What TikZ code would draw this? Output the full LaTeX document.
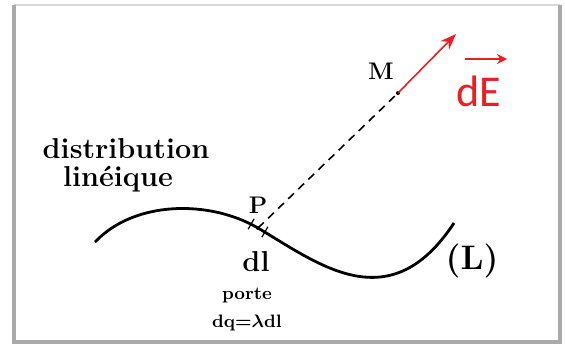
\documentclass[tikz,border=0pt]{standalone}
\usepackage{amsmath}
\usepackage{fontspec}
\newfontfamily\calfont{Carlito}
\usetikzlibrary{arrows.meta, calc}
\definecolor{frGray}{RGB}{170,170,170}
\definecolor{vecRed}{RGB}{235,30,35}

\begin{document}
\begin{tikzpicture}[x=0.5pt, y=-0.5pt,
    lbl/.style={font=\large\bfseries, inner sep=0pt},
    biglbl/.style={font=\Large\bfseries, inner sep=0pt, align=center},
    smlbl/.style={font=\fontsize{9}{10}\selectfont\bfseries, inner sep=0pt}
  ]
  \useasboundingbox (0,0) rectangle (565,347);
  % cadre
  \draw[frGray!45, line width=1pt] (14,5) -- (560,5);
  \draw[frGray, line width=1.6pt] (14,5) -- (14,342) -- (560,342) -- (560,5);

  % courbe (L)
  \coordinate (P) at (258,228);
  \coordinate (M) at (398,93);
  \coordinate (Etip) at (456,34);
  \draw[line width=1.4pt] (95,242) .. controls (135,200) and (210,200) .. (P)
        .. controls (320,265) and (390,320) .. (454,223);
  % element dl
  \foreach \s in {-8,8} {
    \draw[line width=0.6pt] ($(P)+(\s*0.86,\s*0.5)+(3,-5.2)$) -- ($(P)+(\s*0.86,\s*0.5)+(-3,5.2)$);
  }
  \fill (P) circle (2);

  % P vers M
  \draw[line width=0.8pt, dash pattern=on 4pt off 3pt] (P) -- (M);
  \fill (M) circle (2);
  \draw[vecRed, line width=0.8pt, -{Stealth[length=8pt, width=6pt]}] (M) -- (Etip);

  % textes
  \node[biglbl] (distr) at (126,149) {distribution};
  \node[biglbl, anchor=north] (lin) at (118,166) {lin\'eique};
  \node[lbl] (Plbl) at (258,205) {P};
  \node[lbl] (Mlbl) at (381,71) {M};
  \node[biglbl] (dl) at (256,262) {dl};
  \node[smlbl] (porte) at (247,296) {porte};
  \node[smlbl] (dq) at (247,323) {dq=$\boldsymbol{\lambda}$dl};
  \node[font=\fontsize{17}{20}\selectfont\bfseries, inner sep=0pt] (L) at (472,261) {(L)};
  \node[vecRed, font=\calfont\fontsize{22}{24}\selectfont, inner sep=0pt] (dE) at (479,91) {dE};
  \draw[vecRed, line width=1.2pt, -{Stealth[length=5pt, width=5pt]}] (465,59) -- (507,59);
\end{tikzpicture}
\end{document}
